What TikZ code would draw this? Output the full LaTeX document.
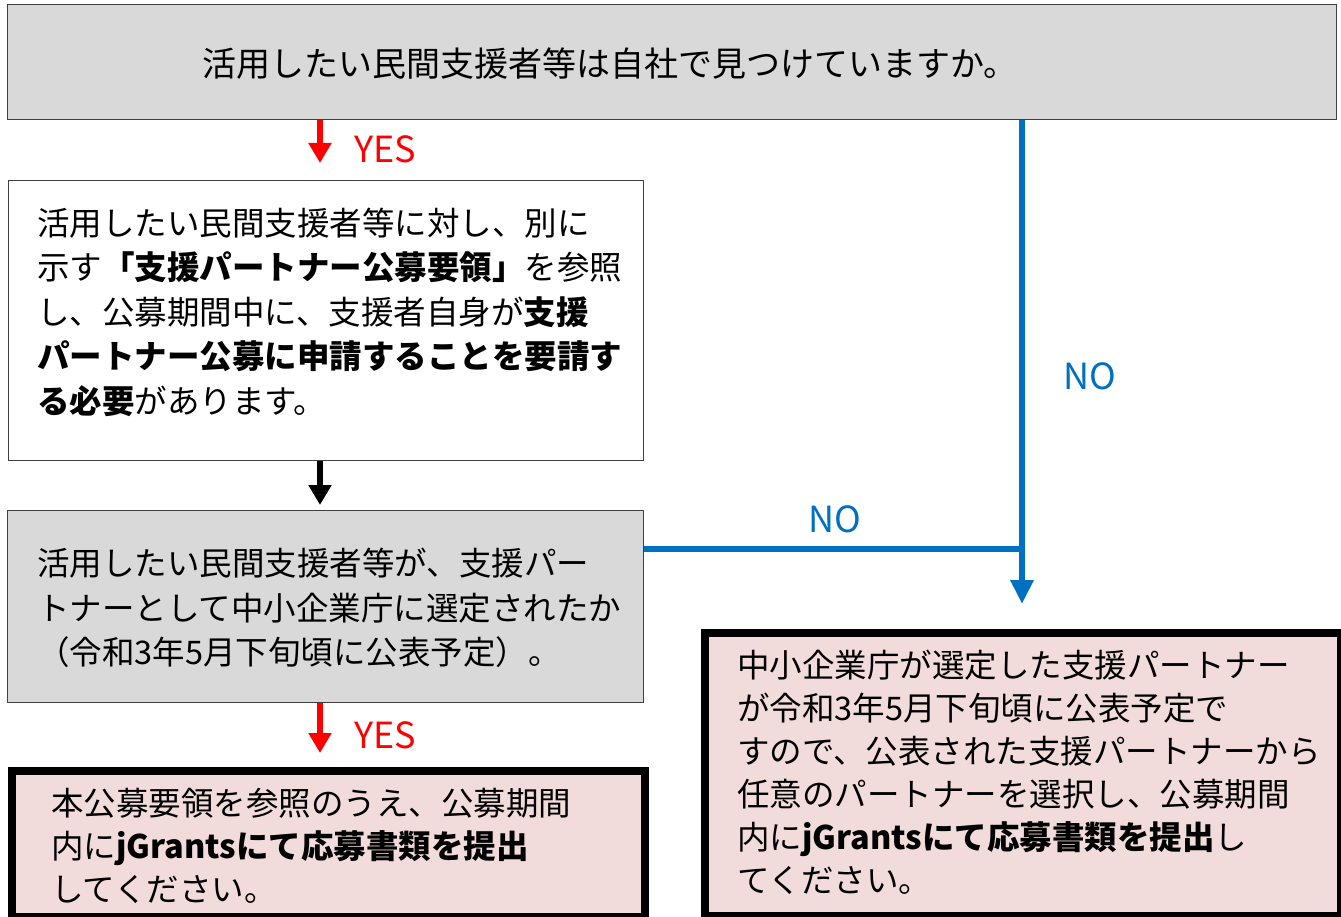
\documentclass[tikz,border=0pt]{standalone}
\usepackage{fontspec}
\setmainfont{Noto Sans CJK JP}
\usetikzlibrary{arrows.meta}
\definecolor{boxgray}{HTML}{D9D9D9}
\definecolor{boxpink}{HTML}{F2DCDB}
\definecolor{noblue}{HTML}{0070C0}
\definecolor{yesred}{HTML}{FF0000}
\definecolor{edgegray}{HTML}{404040}
\begin{document}
\begin{tikzpicture}[x=1pt,y=-1pt,
  graybox/.style={draw=edgegray,line width=1.3pt,fill=boxgray,anchor=north west,inner sep=0pt},
  whitebox/.style={draw=edgegray,line width=1.3pt,fill=white,anchor=north west,inner sep=0pt},
  endbox/.style={draw=black,line width=8pt,fill=boxpink,anchor=north west,inner sep=0pt},
  bodytext/.style={align=left,anchor=west,inner sep=0pt,font=\fontsize{32.5}{44.5}\selectfont},
  toptext/.style={anchor=center,inner sep=0pt,font=\fontsize{34}{40}\selectfont},
  yeslabel/.style={text=yesred,anchor=west,inner sep=0pt,font=\fontsize{36}{40}\selectfont},
  nolabel/.style={text=noblue,anchor=west,inner sep=0pt,font=\fontsize{36}{40}\selectfont},
  redarrow/.style={draw=yesred,line width=6pt,-{Triangle[width=22pt,length=20pt]}},
  blackarrow/.style={draw=black,line width=6pt,-{Triangle[width=22pt,length=20pt]}},
  blueline/.style={draw=noblue,line width=6pt},
  bluearrow/.style={draw=noblue,line width=6pt,-{Triangle[width=22pt,length=24pt]}}
]
\useasboundingbox (0,0) rectangle (1341,917);
\fill[white] (0,0) rectangle (1341,917);

% boxes
\node[graybox,minimum width=1329,minimum height=115] (q1) at (7,4) {};
\node[whitebox,minimum width=635,minimum height=280] (b2) at (8,180) {};
\node[graybox,minimum width=636,minimum height=192] (q2) at (7,510) {};
\node[endbox,minimum width=633,minimum height=146] (e1) at (8,767) {};
\node[endbox,minimum width=636,minimum height=283] (e2) at (701,629) {};

% texts
\node[toptext] (t1) at (610,64) {活用したい民間支援者等は自社で見つけていますか。};
\node[bodytext] (t2) at (37,312) {活用したい民間支援者等に対し、別に\\示す\textbf{「支援パートナー公募要領」}を参照\\し、公募期間中に、支援者自身が\textbf{支援}\\\textbf{パートナー公募に申請することを要請す}\\\textbf{る必要}があります。};
\node[bodytext] (t3) at (37,608) {活用したい民間支援者等が、支援パー\\トナーとして中小企業庁に選定されたか\\（令和3年5月下旬頃に公表予定）。};
\node[bodytext,font=\fontsize{32.5}{43}\selectfont] (t4) at (51,846) {本公募要領を参照のうえ、公募期間\\内に\textbf{jGrantsにて応募書類を提出}\\してください。};
\node[bodytext,font=\fontsize{32.5}{43}\selectfont] (t5) at (737,772) {中小企業庁が選定した支援パートナー\\が令和3年5月下旬頃に公表予定で\\すので、公表された支援パートナーから\\任意のパートナーを選択し、公募期間\\内に\textbf{jGrantsにて応募書類を提出}し\\てください。};

% helper coordinates
\coordinate (cx) at (320,0);
\coordinate (cb) at (1022,0);
\coordinate (ch) at (0,549);

% connectors
\draw[redarrow] (q1.south -| cx) -- (b2.north -| cx) [shorten >=17pt];
\draw[blackarrow] (b2.south -| cx) -- (q2.north -| cx) [shorten >=5pt];
\draw[redarrow] (q2.south -| cx) -- (e1.north -| cx) [shorten >=14pt];
\draw[bluearrow] (q1.south -| cb) -- (e2.north -| cb) [shorten >=25pt];
\draw[blueline] (q2.east |- ch) -- (ch -| cb);

% labels
\node[yeslabel] (y1) at (354,149) {YES};
\node[yeslabel] (y2) at (354,735) {YES};
\node[nolabel] (n1) at (1063,376) {NO};
\node[nolabel] (n2) at (808,519) {NO};
\end{tikzpicture}
\end{document}
